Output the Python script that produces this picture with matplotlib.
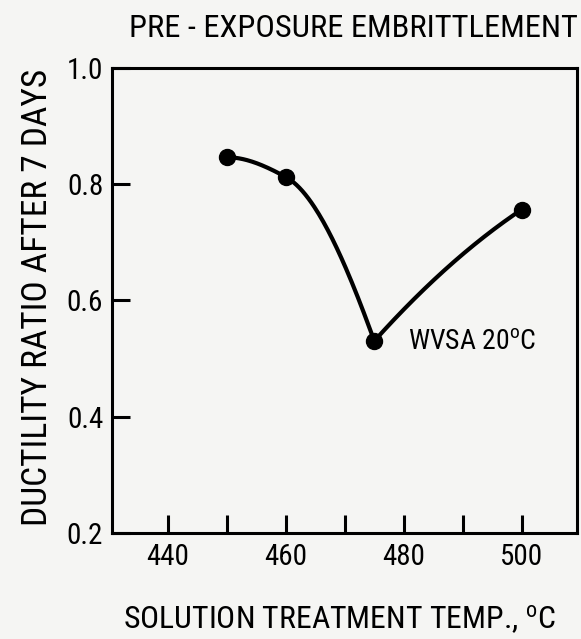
import numpy as np
import matplotlib
matplotlib.use("Agg")
import matplotlib.pyplot as plt

# data
temps = [450, 460, 475, 500]
ratio = [0.846, 0.812, 0.530, 0.756]
xticks_major = [440, 460, 480, 500]
xticks_minor = [450, 470, 490]
yticks = [0.2, 0.4, 0.6, 0.8, 1.0]
ytick_labels = ["0.2", "0.4", "0.6", "0.8", "1.0"]
title = "PRE - EXPOSURE EMBRITTLEMENT"
xlabel = "SOLUTION TREATMENT TEMP., $^{\\mathrm{o}}$C"
ylabel = "DUCTILITY RATIO AFTER 7 DAYS"
annot = "WVSA 20$^{\\mathrm{o}}$C"

MAIN = "Roboto Condensed"
FONT = [MAIN, "DejaVu Sans"]
plt.rcParams["font.family"] = FONT
plt.rcParams["mathtext.fontset"] = "custom"
plt.rcParams["mathtext.rm"] = MAIN
plt.rcParams["mathtext.it"] = MAIN
plt.rcParams["mathtext.bf"] = MAIN

BG = "#f5f5f3"
fig = plt.figure(figsize=(5.81, 6.39), dpi=100, facecolor=BG)
ax = fig.add_axes([0.192, 0.166, 0.801, 0.728], facecolor=BG)


def hermite(x0, x1, y0, y1, m0, m1, xs):
    h = x1 - x0
    t = (xs - x0) / h
    return ((2 * t**3 - 3 * t**2 + 1) * y0 + (t**3 - 2 * t**2 + t) * h * m0
            + (-2 * t**3 + 3 * t**2) * y1 + (t**3 - t**2) * h * m1)


def pchip_slopes(x, y):
    h = np.diff(x)
    d = np.diff(y) / h
    n = len(x)
    m = np.zeros(n)
    for k in range(1, n - 1):
        if d[k - 1] * d[k] > 0:
            w1 = 2 * h[k] + h[k - 1]
            w2 = h[k] + 2 * h[k - 1]
            m[k] = (w1 + w2) / (w1 / d[k - 1] + w2 / d[k])
    def end(h0, h1, d0, d1):
        s = ((2 * h0 + h1) * d0 - h0 * d1) / (h0 + h1)
        if np.sign(s) != np.sign(d0):
            s = 0.0
        elif np.sign(d0) != np.sign(d1) and abs(s) > abs(3 * d0):
            s = 3 * d0
        return s
    m[0] = end(h[0], h[1], d[0], d[1])
    m[-1] = end(h[-1], h[-2], d[-1], d[-2])
    return m


t = np.array(temps, float)
r = np.array(ratio, float)
# left branch: monotone cubic through first three points
ml = pchip_slopes(t[:3], r[:3])
xs_all, ys_all = [], []
for k in range(2):
    xs = np.linspace(t[k], t[k + 1], 60)
    xs_all.append(xs)
    ys_all.append(hermite(t[k], t[k + 1], r[k], r[k + 1], ml[k], ml[k + 1], xs))
# right branch: gently bowed curve from the minimum to the last point
sec = (r[3] - r[2]) / (t[3] - t[2])
bow = 0.25
xs = np.linspace(t[2], t[3], 60)
xs_all.append(xs)
ys_all.append(hermite(t[2], t[3], r[2], r[3], sec * (1 + bow), sec * (1 - bow), xs))

ax.plot(np.concatenate(xs_all), np.concatenate(ys_all), color="black", lw=3,
        solid_capstyle="round", solid_joinstyle="round")
ax.plot(t, r, "o", color="black", ms=11.5)

ax.set_xlim(430.4, 509.4)
ax.set_ylim(0.2, 1.0)
ax.set_xticks(xticks_major)
ax.set_xticks(xticks_minor, minor=True)
ax.set_yticks(yticks)
ax.set_yticklabels(ytick_labels)
ax.tick_params(axis="both", which="both", direction="in", length=13, width=2.2, labelsize=21)
ax.tick_params(axis="x", which="both", pad=7)
ax.tick_params(axis="y", pad=6)
for s in ax.spines.values():
    s.set_linewidth(2.2)

ax.text(480.7, 0.53, annot, fontsize=20, va="center", ha="left")

fig.text(0.995, 0.955, title, fontsize=23.4, ha="right", va="center")
fig.text(0.585, 0.03, xlabel, fontsize=22.9, ha="center", va="center")
fig.text(0.064, 0.535, ylabel, fontsize=25.5, ha="center", va="center", rotation=90)

fig.savefig("out.png", dpi=100, facecolor=BG)
